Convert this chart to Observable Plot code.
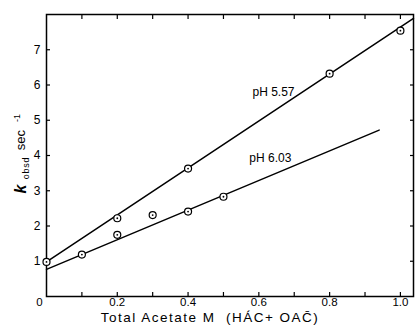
<!DOCTYPE html>
<html>
<head>
<meta charset="utf-8">
<script src="https://cdn.jsdelivr.net/npm/d3@7"></script>
<script src="https://cdn.jsdelivr.net/npm/@observablehq/plot@0.6"></script>
<style>
  html, body { margin: 0; padding: 0; background: white; }
</style>
</head>
<body>
<div id="chart"></div>
<script>
// Observed points, pH 5.57
const ph557X = [0, 0.2, 0.4, 0.8, 1.0];
const ph557Y = [0.98, 2.22, 3.63, 6.32, 7.54];
// Observed points, pH 6.03
const ph603X = [0.1, 0.2, 0.3, 0.4, 0.5];
const ph603Y = [1.19, 1.75, 2.31, 2.41, 2.83];
// Fitted lines (end points)
const fit557X = [0, 1.037];
const fit557Y = [0.98, 7.89];
const fit603X = [0, 0.94];
const fit603Y = [0.77, 4.72];
// Line labels
const labelText = ["pH 5.57", "pH 6.03"];
const labelX = [0.582, 0.573];
const labelY = [5.80, 3.93];
// Ticks
const xTickLabels = [0.2, 0.4, 0.6, 0.8, 1.0];
const xMinorTicks = [0.1, 0.2, 0.3, 0.4, 0.5, 0.6, 0.7, 0.8, 0.9, 1.0];
const yTickLabels = [1, 2, 3, 4, 5, 6, 7];
const xTitle = "Total Acetate M  (HÁC+ OAC̄)";

const pts557 = ph557X.map((x, i) => ({x, y: ph557Y[i]}));
const pts603 = ph603X.map((x, i) => ({x, y: ph603Y[i]}));
const allPts = pts557.concat(pts603);
const line557 = fit557X.map((x, i) => ({x, y: fit557Y[i]}));
const line603 = fit603X.map((x, i) => ({x, y: fit603Y[i]}));
const labels = labelText.map((t, i) => ({t, x: labelX[i], y: labelY[i]}));

const svg = Plot.plot({
  width: 416,
  height: 329,
  marginLeft: 46,
  marginRight: 3,
  marginTop: 14,
  marginBottom: 33,
  style: {fontFamily: "'Liberation Sans', Arial, sans-serif", fontSize: "12px", background: "white", color: "black"},
  x: {domain: [0, 1.037]},
  y: {domain: [0, 8]},
  marks: [
    Plot.frame({stroke: "black", strokeWidth: 1.5}),
    // inward tick marks
    Plot.axisX(xMinorTicks, {anchor: "bottom", tickSize: 4, dy: -4, text: null, label: null, strokeWidth: 1.2}),
    Plot.axisX(xMinorTicks, {anchor: "top", tickSize: 4, dy: 4, text: null, label: null, strokeWidth: 1.2}),
    Plot.axisY(yTickLabels, {anchor: "left", tickSize: 4, dx: 4, text: null, label: null, strokeWidth: 1.2}),
    Plot.axisY(yTickLabels, {anchor: "right", tickSize: 4, dx: -4, text: null, label: null, strokeWidth: 1.2}),
    // tick labels
    Plot.axisX(xTickLabels, {anchor: "bottom", tickSize: 0, tickPadding: 1, tickFormat: d3.format(".1f"), label: null, fontSize: 11.5}),
    Plot.axisX([0], {anchor: "bottom", tickSize: 0, tickPadding: 1, dx: -7, tickFormat: d => "0", label: null, fontSize: 11.5}),
    Plot.axisY(yTickLabels, {anchor: "left", tickSize: 0, tickPadding: 6, label: null, fontSize: 12}),
    // fitted lines
    Plot.line(line557, {x: "x", y: "y", stroke: "black", strokeWidth: 1.5}),
    Plot.line(line603, {x: "x", y: "y", stroke: "black", strokeWidth: 1.5}),
    // points
    Plot.dot(allPts, {x: "x", y: "y", r: 3.5, stroke: "black", strokeWidth: 1.2, fill: "white"}),
    Plot.dot(allPts, {x: "x", y: "y", r: 0.9, fill: "black"}),
    // line labels
    Plot.text(labels, {x: "x", y: "y", text: "t", textAnchor: "start", fontSize: 12, fill: "black"})
  ]
});

const s = d3.select(svg);
// x title
s.append("text")
  .attr("x", 210).attr("y", 322)
  .attr("text-anchor", "middle")
  .attr("font-size", 13.5)
  .attr("letter-spacing", 1.5)
  .attr("fill", "black")
  .text(xTitle);
// y title
const yt = s.append("text")
  .attr("transform", "translate(25,189) rotate(-90)")
  .attr("fill", "black");
yt.append("tspan").attr("x", 0).attr("y", 1).attr("font-size", 16).attr("font-style", "italic").attr("font-weight", "bold").text("k");
yt.append("tspan").attr("x", 21).attr("y", 4).attr("font-size", 9).attr("letter-spacing", 0.8).text("obsd");
yt.append("tspan").attr("x", 49).attr("y", 0).attr("font-size", 13).text("sec");
yt.append("tspan").attr("x", 71).attr("y", -5).attr("font-size", 9).text("-1");

document.getElementById("chart").appendChild(svg);
</script>
</body>
</html>
